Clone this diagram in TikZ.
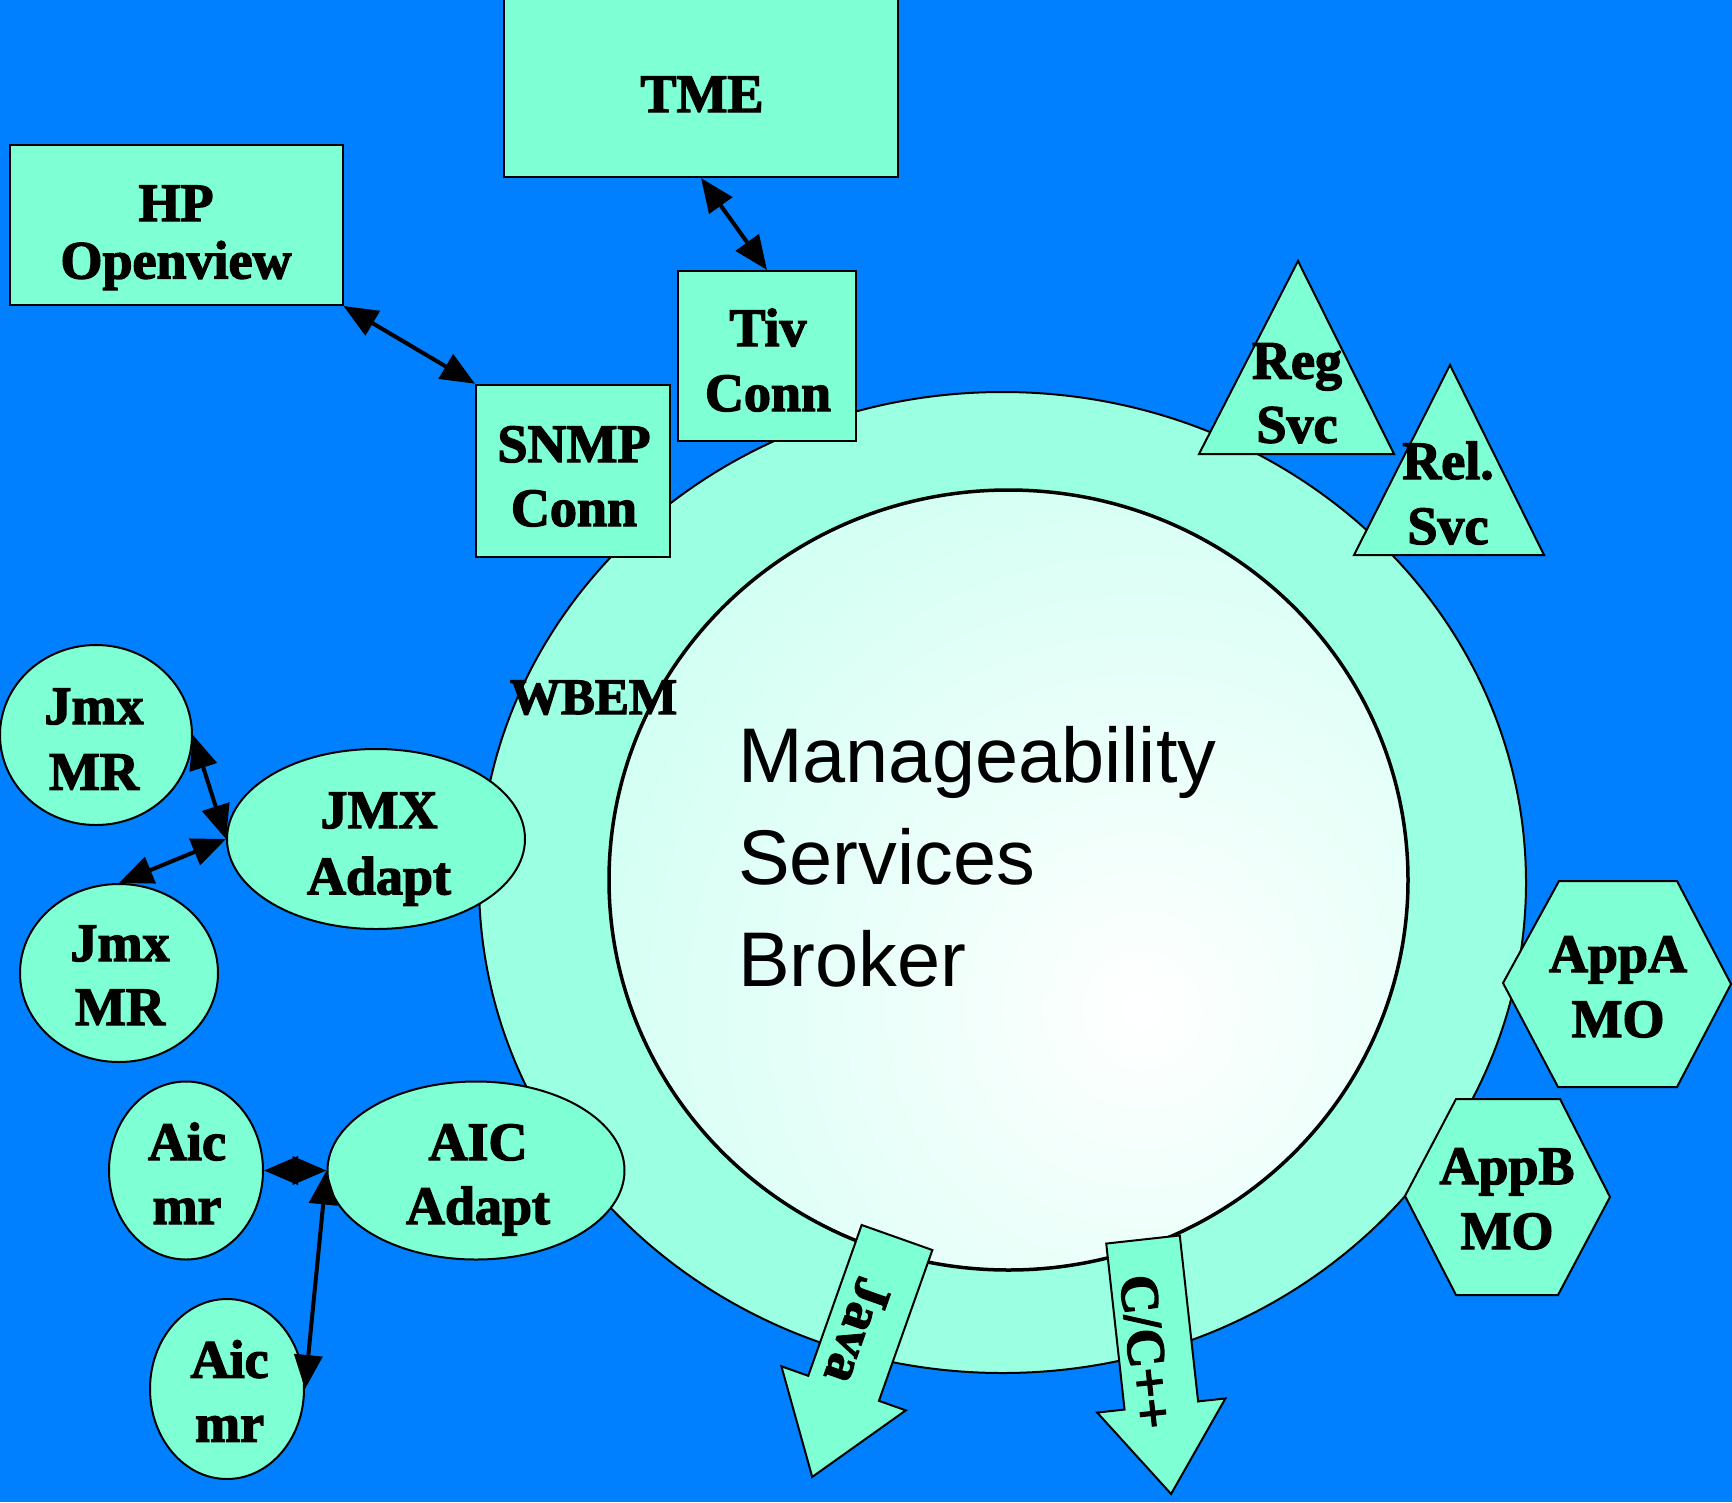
\documentclass[tikz,border=0pt]{standalone}
\usepackage{fontspec}
\setmainfont{Liberation Serif}[BoldFeatures={FakeBold=2.5}]
\setsansfont{Liberation Sans}
\usetikzlibrary{arrows.meta,shapes.geometric}

\definecolor{sky}{RGB}{0,128,255}
\definecolor{aqua}{RGB}{127,255,212}
\definecolor{ringfill}{RGB}{155,255,225}
\definecolor{coreedge}{RGB}{170,255,231}
% soft white glow fading out to the core colour (35bp of 50bp = 560pt on an 800pt disc)
\pgfdeclareradialshading{coreglow}{\pgfpointorigin}{%
  color(0bp)=(white); color(35bp)=(coreedge); color(50bp)=(coreedge)}

\newcommand\lblfont{\bfseries\fontsize{54}{64}\selectfont}
\newcommand\msbfont{\sffamily\fontsize{77.5}{102}\selectfont}
% two centred lines; the box baseline is the first line's baseline
\newcommand\twolines[3][0pt]{\begin{tabular}[t]{@{}c@{}}#2\\[#1]#3\end{tabular}}

\begin{document}
\begin{tikzpicture}[x=1pt,y=-1pt,
  part/.style={draw=black, line width=2pt, fill=aqua},
  box/.style={part, rectangle, inner sep=0pt},
  oval/.style={part, ellipse, inner sep=0pt},
  lbl/.style={font=\lblfont, inner sep=0pt, anchor=base},
  link/.style={line width=4pt,
    {Triangle[length=34pt,width=28pt]}-{Triangle[length=34pt,width=28pt]}},
]
\useasboundingbox (0,0) rectangle (1732,1502);
\fill[sky] (0,0) rectangle (1732,1502);

% the broker: outer ring and glowing core
\node[ellipse, draw=black, line width=2pt, fill=ringfill, inner sep=0pt,
  minimum width=1047pt, minimum height=981pt] (ring) at (1002.5,882.5) {};
\node[ellipse, draw=black, line width=3.5pt, fill=coreedge, inner sep=0pt,
  minimum width=799pt, minimum height=780pt,
  path picture={\shade[shading=coreglow]
    ([xshift=133.5pt,yshift=-130pt]path picture bounding box.center) circle [radius=800pt];}]
  (core) at (1008.5,880) {};
\node[anchor=base west, font=\msbfont, inner sep=0pt] (msb) at (738,782)
  {\begin{tabular}[t]{@{}l@{}}Manageability\\Services\\Broker\end{tabular}};

% managers and connectors
\node[box, minimum width=394pt, minimum height=192pt] (tme) at (701,81) {};
\node[box, minimum width=333pt, minimum height=160pt] (hp) at (176,225) {};
\node[box, minimum width=178pt, minimum height=170pt] (tiv) at (767,356) {};
\node[box, minimum width=194pt, minimum height=172pt] (snmp) at (573,470.7) {};

% services
\path[part] (1298,261) -- (1394,454) -- (1199,454) -- cycle;
\path[part] (1450,365) -- (1544,555) -- (1354,555) -- cycle;

% managed objects
\path[part] (1503,983) -- (1559,881) -- (1677,881) -- (1731,984) -- (1677,1087) -- (1558,1087) -- cycle;
\path[part] (1405,1196) -- (1456,1099) -- (1560,1099) -- (1610,1197) -- (1558,1295) -- (1456,1295) -- cycle;

% adaptors and their MBean / AIC servers
\node[oval, minimum width=192pt, minimum height=180pt] (jmxmr1) at (96,735) {};
\node[oval, minimum width=298pt, minimum height=180pt] (jmxad) at (376,839) {};
\node[oval, minimum width=198pt, minimum height=178pt] (jmxmr2) at (119,973) {};
\node[oval, minimum width=154pt, minimum height=178pt] (aicmr1) at (186,1170.5) {};
\node[oval, minimum width=297pt, minimum height=178pt] (aicad) at (476,1170.5) {};
\node[oval, minimum width=154pt, minimum height=180pt] (aicmr2) at (227,1389) {};

% language bindings
\begin{scope}[shift={(897,1237.5)}, rotate=-109.5]
  \path[part] (0,-37.5) -- (160,-37.5) -- (160,-66) -- (254,0) -- (160,66) -- (160,37.5) -- (0,37.5) -- cycle;
  \node[transform shape, font=\lblfont, inner sep=0pt] (java) at (101,5.4) {Java};
\end{scope}
\begin{scope}[shift={(1143,1239.5)}, rotate=-83.7]
  \path[part] (0,-37) -- (167,-37) -- (167,-64.5) -- (256,0) -- (167,64.5) -- (167,37) -- (0,37) -- cycle;
  \node[transform shape, font=\lblfont, inner sep=0pt] (cpp) at (112,9.5) {C/C++};
\end{scope}

% links
\draw[link] (hp.south east) -- (snmp.north west);
\draw[link] (tme.south) -- (tiv.north);
\draw[link] (jmxmr1.east) -- (jmxad.west);
\draw[link] (jmxmr2.north) -- (jmxad.west);
\draw[link] (aicmr1.east) -- (aicad.west);
\draw[link] (aicad.west) -- (aicmr2.east);

% labels
\node[lbl] (tmet) at (702,112) {TME};
\node[lbl] (hpt) at (176,221) {\twolines[-6.5pt]{HP}{Openview}};
\node[lbl] (tivt) at (768,346) {\twolines[1pt]{Tiv}{Conn}};
\node[lbl] (snmpt) at (574,462) {\twolines{SNMP}{Conn}};
\node[lbl] (regt) at (1297,378.6) {\twolines{Reg}{Svc}};
\node[lbl] (relt) at (1448,479) {\twolines[1pt]{Rel.}{Svc}};
\node[lbl] (appat) at (1618,972) {\twolines[1pt]{AppA}{MO}};
\node[lbl] (appbt) at (1507,1184) {\twolines[1pt]{AppB}{MO}};
\node[lbl] (jmx1t) at (94,724) {\twolines[1.7pt]{Jmx}{MR}};
\node[lbl] (jmxadt) at (379,828) {\twolines[2.3pt]{JMX}{Adapt}};
\node[lbl] (jmx2t) at (120,961) {\twolines{Jmx}{MR}};
\node[lbl] (aic1t) at (187,1160) {\twolines{Aic}{mr}};
\node[lbl] (aicadt) at (478,1160) {\twolines{AIC}{Adapt}};
\node[lbl] (aic2t) at (229.6,1377.6) {\twolines{Aic}{mr}};
\node[lbl, font=\bfseries\fontsize{51}{60}\selectfont] (wbem) at (593.5,714) {WBEM};
\end{tikzpicture}
\end{document}
